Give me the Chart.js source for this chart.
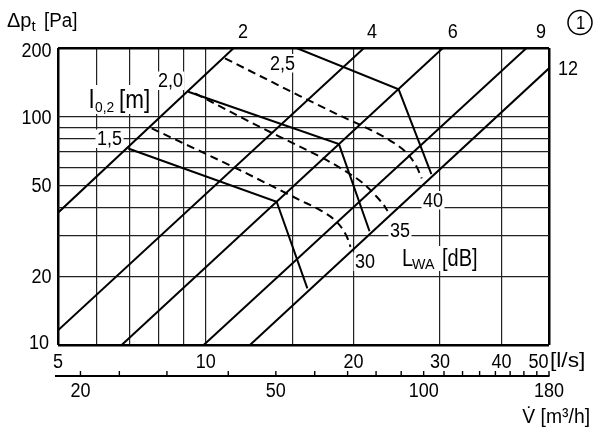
<!DOCTYPE html>
<html><head><meta charset="utf-8">
<script src="https://cdn.jsdelivr.net/npm/chart.js@4"></script>
<style>html,body{margin:0;padding:0;background:#fff}#wrap{width:600px;height:436px}</style>
</head><body><div id="wrap"><canvas id="c" width="600" height="436"></canvas></div>
<script>
// ---------------- data ----------------
const xGridLs = [5, 6, 7, 8, 9, 10, 15, 20, 30, 40, 50];
const xTickLabelsLs = [5, 10, 20, 30, 40, 50];
const yGridPa = [10, 20, 30, 40, 50, 60, 70, 80, 90, 100, 200];
const yTickLabelsPa = [10, 20, 50, 100, 200];
const m3hTicks = [20, 24, 30, 40, 50, 60, 70, 80, 90, 100, 110, 120, 130, 140, 150, 160, 170, 180];
const m3hTickLabels = [20, 50, 100, 180];

// system characteristic lines (labels 2, 4, 6, 9, 12): visible end points [l/s, Pa]
const systemLabels = ['2', '4', '6', '9', '12'];
const systemStart = [[5, 38], [5, 11.6], [6.74, 10], [9.9, 10], [12.3, 10]];
const systemEnd = [[11.4, 200], [21.0, 200], [30.4, 200], [45.0, 200], [50, 163]];

// throw l0,2 [m] (solid)
const throwLabels = ['1,5', '2,0', '2,5'];
const throw15 = [[6.95, 72.6], [13.94, 42.4], [16.1, 17.7]];
const throw20 = [[9.21, 128.6], [18.67, 75.9], [21.55, 31.5]];
const throw25 = [[15.3, 200], [24.7, 131.8], [28.8, 56.05]];

// sound power LWA [dB] (dashed)
const soundLabels = ['30', '35', '40'];
const sound30 = [[7.76, 88.9], [11.74, 58.3], [14.16, 47.7], [15.55, 43.1], [17.09, 39.0], [18.33, 35.2], [19.06, 31.8], [19.51, 28.8], [19.71, 26.9]];
const sound35 = [[9.51, 126.6], [12.9, 90.1], [15.08, 76.4], [17.63, 64.5], [19.36, 57.3], [20.93, 51.0], [22.29, 44.6], [23.17, 40.3], [23.45, 38.6]];
const sound40 = [[10.94, 180.3], [12.9, 150.8], [15.55, 123.2], [18.76, 101.2], [21.6, 87.8], [23.73, 78.6], [25.66, 69.3], [26.89, 60.3], [27.52, 53.7]];

// ---------------- helpers ----------------
const FONT = '"Liberation Sans", Arial, sans-serif';
const pts = a => a.map(p => ({x: p[0], y: p[1]}));

function drawText(ctx, s, x, y, size, align, sx) {
  sx = sx || 0.9;
  ctx.save();
  ctx.font = size + 'px ' + FONT;
  ctx.fillStyle = '#000';
  ctx.textAlign = align || 'left';
  ctx.textBaseline = 'alphabetic';
  ctx.translate(x, y);
  ctx.scale(sx, 1);
  ctx.fillText(s, 0, 0);
  const w = ctx.measureText(s).width * sx;
  ctx.restore();
  return w;
}
function textWidth(ctx, s, size, sx) {
  ctx.save(); ctx.font = size + 'px ' + FONT;
  const w = ctx.measureText(s).width * (sx || 0.9);
  ctx.restore(); return w;
}
function whiteBox(ctx, x0, y0, x1, y1) {
  ctx.save(); ctx.fillStyle = '#fff'; ctx.fillRect(x0, y0, x1 - x0, y1 - y0); ctx.restore();
}

// in-plot labels (pixel anchors: left x, baseline y)
const NUM = 20;
const inPlotNumLabels = [
  {t: throwLabels[0], x: 97, y: 145},
  {t: throwLabels[1], x: 158, y: 87},
  {t: throwLabels[2], x: 270, y: 69.5},
  {t: soundLabels[0], x: 355, y: 268},
  {t: soundLabels[1], x: 390, y: 236.5},
  {t: soundLabels[2], x: 423, y: 206.5}
];

const labelPlugin = {
  id: 'labels',
  beforeDatasetsDraw(chart) {
    const ctx = chart.ctx;
    inPlotNumLabels.forEach(l => {
      const w = textWidth(ctx, l.t, NUM, 0.9);
      whiteBox(ctx, l.x - 1.5, l.y - 15.5, l.x + w + 1.5, l.y + 3);
    });
    whiteBox(ctx, 87, 85, 152, 114);   // l0,2 [m]
    whiteBox(ctx, 400, 246, 479, 271); // LWA [dB]
  },
  afterDraw(chart) {
    const ctx = chart.ctx;
    const xs = chart.scales.x, ys = chart.scales.y, x2 = chart.scales.x2;

    // y tick labels
    yTickLabelsPa.forEach(v => {
      const py = ys.getPixelForValue(v);
      let by = py + 7, rx = 51.5;
      if (v === 200) by = py + 9;
      if (v === 10) { by = py + 4; rx = 49; }
      drawText(ctx, String(v), rx, by, NUM, 'right', 0.9);
    });
    // x tick labels (l/s)
    xTickLabelsLs.forEach(v => {
      const px = xs.getPixelForValue(v);
      if (v === 50) drawText(ctx, String(v), px - 0.5, 368, NUM, 'right', 0.9);
      else drawText(ctx, String(v), px, 368, NUM, 'center', 0.9);
    });
    drawText(ctx, '[l/s]', xs.right + 1, 367, 21, 'left', 1.08);

    // secondary axis (m3/h)
    const yA = 376;
    ctx.save();
    ctx.strokeStyle = '#000';
    ctx.lineWidth = 2;
    ctx.beginPath();
    ctx.moveTo(x2.getPixelForValue(18) - 3, yA);
    ctx.lineTo(x2.getPixelForValue(180) + 0.5, yA);
    ctx.stroke();
    ctx.lineWidth = 1.4;
    m3hTicks.forEach(v => {
      const px = x2.getPixelForValue(v);
      ctx.beginPath(); ctx.moveTo(px, yA); ctx.lineTo(px, yA - 5); ctx.stroke();
    });
    ctx.restore();
    m3hTickLabels.forEach(v => {
      drawText(ctx, String(v), x2.getPixelForValue(v), 397, NUM, 'center', 0.9);
    });
    // V̇ [m³/h]
    drawText(ctx, 'V\u0307 [m\u00b3/h]', 590, 423, 21, 'right', 0.92);

    // y title Δpt [Pa]
    drawText(ctx, '\u0394p', 7, 27, 20, 'left', 1.0);
    drawText(ctx, 't', 31.5, 31, 15, 'left', 1.0);
    drawText(ctx, '[Pa]', 44, 27, 20, 'left', 0.94);

    // system line labels
    const topPos = [243, 372, 452.7, 541];
    for (let i = 0; i < 4; i++) drawText(ctx, systemLabels[i], topPos[i], 38, NUM, 'center', 0.9);
    const p12 = ys.getPixelForValue(systemEnd[4][1]);
    drawText(ctx, systemLabels[4], 558, p12 + 7, NUM, 'left', 0.9);

    // circled 1
    ctx.save();
    ctx.strokeStyle = '#000'; ctx.lineWidth = 1.5;
    ctx.beginPath(); ctx.arc(580, 22.5, 12, 0, Math.PI * 2); ctx.stroke();
    ctx.restore();
    drawText(ctx, '1', 580.5, 29, 18, 'center', 0.92);

    // in-plot labels
    inPlotNumLabels.forEach(l => drawText(ctx, l.t, l.x, l.y, NUM, 'left', 0.9));
    // l0,2 [m]
    drawText(ctx, 'l', 89, 108, 26, 'left', 0.9);
    drawText(ctx, '0,2', 95, 112, 15, 'left', 0.92);
    drawText(ctx, '[m]', 119, 108, 25, 'left', 0.9);
    // LWA [dB]
    drawText(ctx, 'L', 402, 266, 23, 'left', 0.87);
    drawText(ctx, 'WA', 412, 268.5, 15, 'left', 0.95);
    drawText(ctx, '[dB]', 442, 266, 23, 'left', 0.87);
  }
};

// ---------------- datasets ----------------
const datasets = [];
for (let i = 0; i < systemLabels.length; i++) {
  datasets.push({label: 'system ' + systemLabels[i], data: pts([systemStart[i], systemEnd[i]]),
    borderColor: '#000', borderWidth: 2, pointRadius: 0, clip: 0});
}
[throw15, throw20, throw25].forEach((d, i) => datasets.push({
  label: 'l0,2 ' + throwLabels[i], data: pts(d), borderColor: '#000', borderWidth: 2, pointRadius: 0, clip: 0
}));
[sound30, sound35, sound40].forEach((d, i) => datasets.push({
  label: 'LWA ' + soundLabels[i], data: pts(d), borderColor: '#000', borderWidth: 2, borderDash: [8, 5],
  pointRadius: 0, cubicInterpolationMode: 'monotone', clip: 0
}));

const edgeX = v => v === 5 || v === 50;
const edgeY = v => v === 10 || v === 200;

new Chart(document.getElementById('c').getContext('2d'), {
  type: 'line',
  data: {datasets},
  options: {
    responsive: false, animation: false, devicePixelRatio: 1,
    layout: {padding: {left: 58, top: 48, right: 51, bottom: 91}},
    plugins: {legend: {display: false}, tooltip: {enabled: false}},
    scales: {
      x: {
        type: 'logarithmic', min: 5, max: 50, position: 'bottom',
        ticks: {display: false}, border: {display: false},
        grid: {drawTicks: false,
          color: c => edgeX(c.tick.value) ? '#000' : '#222',
          lineWidth: c => edgeX(c.tick.value) ? 2.5 : 1.2},
        afterBuildTicks: s => { s.ticks = xGridLs.map(v => ({value: v})); }
      },
      y: {
        type: 'logarithmic', min: 10, max: 200, position: 'left',
        ticks: {display: false}, border: {display: false},
        grid: {drawTicks: false,
          color: c => edgeY(c.tick.value) ? '#000' : '#222',
          lineWidth: c => edgeY(c.tick.value) ? 2.5 : 1.2},
        afterBuildTicks: s => { s.ticks = yGridPa.map(v => ({value: v})); }
      },
      x2: {type: 'logarithmic', min: 18, max: 180, position: 'bottom', display: false}
    }
  },
  plugins: [labelPlugin]
});
</script>
</body></html>
